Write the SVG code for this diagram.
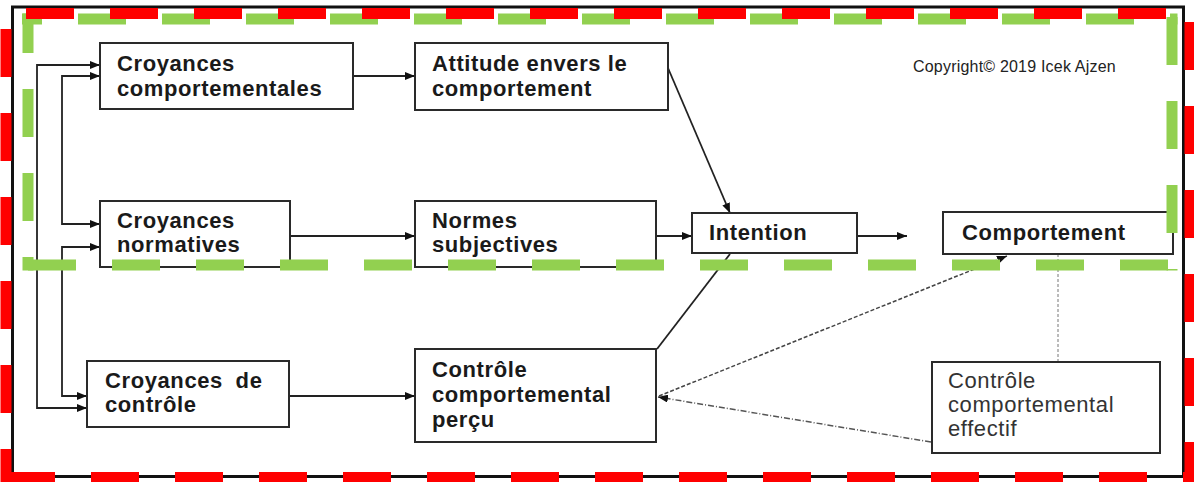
<svg xmlns="http://www.w3.org/2000/svg" width="1194" height="482" viewBox="0 0 1194 482">
  <style>
    .box { fill: #ffffff; stroke: #2a2a2a; stroke-width: 2; }
    .t { font-family: "Liberation Sans", Arial, sans-serif; font-size: 22px; font-weight: bold; fill: #1a1a1a; letter-spacing: 0.6px; }
    .tn { font-family: "Liberation Sans", Arial, sans-serif; font-size: 22px; font-weight: normal; fill: #333333; letter-spacing: 0.6px; }
    .copy { font-family: "Liberation Sans", Arial, sans-serif; font-size: 16px; fill: #222222; letter-spacing: 0.2px; }
    .link { fill: none; stroke: #222222; stroke-width: 1.8; }
    .dash { fill: none; stroke: #444444; stroke-width: 1.5; stroke-dasharray: 4 2; }
    .dot { fill: none; stroke: #555555; stroke-width: 1.5; stroke-dasharray: 6 2 1 2; }
    .thin { fill: none; stroke: #777777; stroke-width: 1; stroke-dasharray: 3 2; }
    .red { fill: none; stroke: #ff0000; stroke-width: 11; stroke-dasharray: 48 36; }
    .green { fill: none; stroke: #92d050; stroke-width: 11; stroke-dasharray: 48 36; }
  </style>
  <defs>
    <marker id="arrow" viewBox="0 0 10 8" refX="10" refY="4" markerWidth="10" markerHeight="8" markerUnits="userSpaceOnUse" orient="auto-start-reverse">
      <path d="M0,0 L10,4 L0,8 z" fill="#111111"/>
    </marker>
  </defs>

  <rect x="0" y="0" width="1194" height="482" fill="#ffffff"/>

  <!-- outer border -->
  <rect x="12.5" y="7" width="1171" height="469.5" fill="none" stroke="#111111" stroke-width="3"/>

  <!-- connectors -->
  <g id="connectors">
    <line class="link" x1="353" y1="76" x2="415" y2="76" marker-end="url(#arrow)"/>
    <line class="link" x1="290" y1="236" x2="415" y2="236" marker-end="url(#arrow)"/>
    <line class="link" x1="656" y1="236" x2="692" y2="236" marker-end="url(#arrow)"/>
    <line class="link" x1="857" y1="236" x2="907" y2="236" marker-end="url(#arrow)"/>
    <line class="link" x1="289" y1="396" x2="415" y2="396" marker-end="url(#arrow)"/>
    <line class="link" x1="668" y1="68" x2="730" y2="213" marker-end="url(#arrow)"/>
    <line class="link" x1="730" y1="254" x2="657" y2="349"/>
    <!-- correlations between belief sets -->
    <path class="link" d="M100,76 H62 V224 H100" marker-start="url(#arrow)" marker-end="url(#arrow)"/>
    <path class="link" d="M100,247 H62 V396 H87" marker-start="url(#arrow)" marker-end="url(#arrow)"/>
    <path class="link" d="M100,65 H37 V408 H87" marker-start="url(#arrow)" marker-end="url(#arrow)"/>
    <!-- control links -->
    <line class="dash" x1="659" y1="396" x2="1007" y2="256" marker-end="url(#arrow)"/>
    <line class="dot" x1="931" y1="442" x2="658" y2="397" marker-end="url(#arrow)"/>
    <line class="thin" x1="1058" y1="254" x2="1058" y2="362"/>
  </g>

  <g id="croyances-comportementales">
    <rect class="box" x="100" y="43" width="253" height="66"/>
    <text class="t" x="117" y="71">Croyances</text>
    <text class="t" x="117" y="96">comportementales</text>
  </g>
  <g id="attitude">
    <rect class="box" x="415" y="43" width="253" height="67"/>
    <text class="t" x="432" y="71">Attitude envers le</text>
    <text class="t" x="432" y="96">comportement</text>
  </g>
  <g id="croyances-normatives">
    <rect class="box" x="100" y="201" width="190" height="66"/>
    <text class="t" x="117" y="228">Croyances</text>
    <text class="t" x="117" y="252">normatives</text>
  </g>
  <g id="normes-subjectives">
    <rect class="box" x="415" y="201" width="241" height="66"/>
    <text class="t" x="432" y="228">Normes</text>
    <text class="t" x="432" y="252">subjectives</text>
  </g>
  <g id="intention">
    <rect class="box" x="692" y="213" width="165" height="40"/>
    <text class="t" x="709" y="240">Intention</text>
  </g>
  <g id="comportement">
    <rect class="box" x="943" y="212" width="230" height="42"/>
    <text class="t" x="962" y="240">Comportement</text>
  </g>
  <g id="croyances-controle">
    <rect class="box" x="87" y="361" width="202" height="66"/>
    <text class="t" x="105" y="388" word-spacing="6">Croyances de</text>
    <text class="t" x="105" y="412">contrôle</text>
  </g>
  <g id="controle-percu">
    <rect class="box" x="415" y="349" width="241" height="93"/>
    <text class="t" x="432" y="377">Contrôle</text>
    <text class="t" x="432" y="402">comportemental</text>
    <text class="t" x="432" y="427">perçu</text>
  </g>
  <g id="controle-effectif">
    <rect class="box" x="932" y="362" width="228" height="91"/>
    <text class="tn" x="948" y="388">Contrôle</text>
    <text class="tn" x="948" y="412">comportemental</text>
    <text class="tn" x="948" y="436">effectif</text>
  </g>

  <text class="copy" x="913" y="72">Copyright© 2019 Icek Ajzen</text>

  <!-- green dashed frame -->
  <g id="green-frame">
    <line class="green" x1="22" y1="19" x2="1177.5" y2="19" stroke-dashoffset="28"/>
    <line class="green" x1="28" y1="13.5" x2="28" y2="270.5" stroke-dashoffset="8.5"/>
    <line class="green" x1="28" y1="265" x2="1177.5" y2="265"/>
    <line class="green" x1="1172" y1="13.5" x2="1172" y2="270.5" stroke-dashoffset="-3.5"/>
  </g>

  <!-- red dashed frame -->
  <g id="red-frame">
    <line class="red" x1="26" y1="13.5" x2="1194" y2="13.5"/>
    <line class="red" x1="6" y1="29" x2="6" y2="482"/>
    <line class="red" x1="7" y1="477.5" x2="1194" y2="477.5"/>
    <line class="red" x1="1190" y1="22" x2="1190" y2="482"/>
  </g>
</svg>
